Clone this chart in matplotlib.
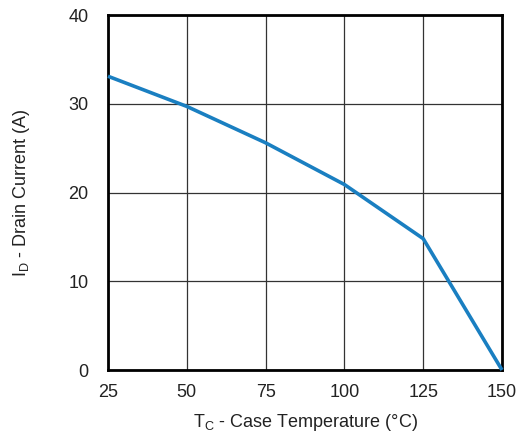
import matplotlib
matplotlib.use("Agg")
import matplotlib.pyplot as plt

# 케이스 온도 vs 드레인 전류
temp_c = [25, 50, 75, 100, 125, 150]
drain_a = [33.1, 29.7, 25.6, 20.9, 14.8, 0.0]
xticks = [25, 50, 75, 100, 125, 150]
yticks = [0, 10, 20, 30, 40]

plt.rcParams['font.family'] = ['Liberation Sans', 'DejaVu Sans']
plt.rcParams['mathtext.default'] = 'regular'

fig = plt.figure(figsize=(5.21, 4.36), dpi=100)
ax = fig.add_axes([108/521, 1-370/436, 394/521, 355/436])

ax.plot(temp_c, drain_a, color='#1a7fc1', linewidth=2.6, solid_capstyle='butt', clip_on=False, zorder=3)

ax.set_xlim(25, 150)
ax.set_ylim(0, 40)
ax.set_xticks(xticks)
ax.set_yticks(yticks)
ax.grid(True, color='#333333', linewidth=0.9)
ax.tick_params(axis='x', length=0, labelsize=13, pad=10, colors='#222222')
ax.tick_params(axis='y', length=0, labelsize=13, pad=14, colors='#222222')
for s in ax.spines.values():
    s.set_linewidth(2)
    s.set_color('black')

ax.set_xlabel('T$_C$ - Case Temperature (°C)', fontsize=13, color='#222222', labelpad=8)
ax.set_ylabel('I$_D$ - Drain Current (A)', fontsize=13, color='#222222', labelpad=26)

plt.savefig('out.png', dpi=100)
